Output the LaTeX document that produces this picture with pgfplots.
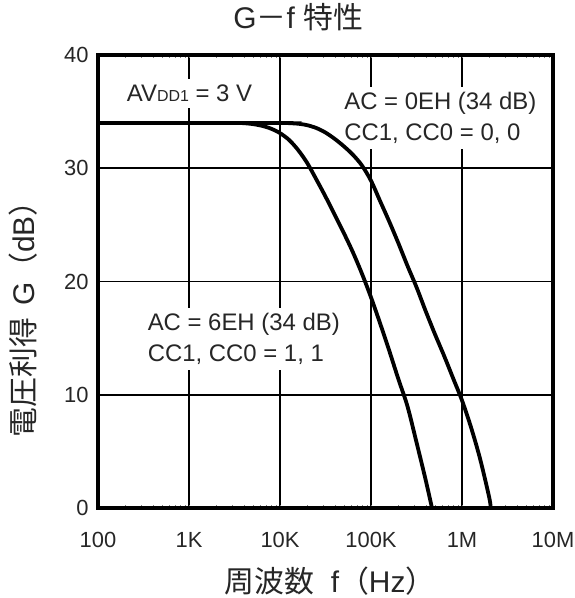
\documentclass[border=0pt]{standalone}
\usepackage{pgfplots}
\pgfplotsset{compat=1.18}
\usepackage{fontspec}
\setmainfont{Liberation Sans}
\newfontfamily\cjk{Noto Sans CJK JP}
\begin{document}
\begin{tikzpicture}
\begin{axis}[
  name=ax,
  scale only axis,
  width=455bp, height=453bp,
  xmode=log,
  xmin=100, xmax=1e7,
  ymin=0, ymax=40,
  xtick={100,1000,10000,100000,1000000,10000000},
  xticklabels={100,1K,10K,100K,1M,10M},
  ytick={0,10,20,30,40},
  yticklabels={0,10,20,30,40},
  minor xtick={}, minor ytick={},
  grid=major,
  major grid style={black, line width=1.6bp},
  axis line style={black, line width=3.6bp},
  major tick length=0pt,
  tick label style={font=\fontsize{22}{26}\selectfont, text=black!85},
  xticklabel style={anchor=base, yshift=-39bp},
  yticklabel style={anchor=east, xshift=-6bp},
  title={G{\cjk －}f {\cjk 特性}},
  title style={font=\fontsize{30}{34}\selectfont, text=black!85, at={(axis description cs:0.44,1.0442)}, anchor=base},
  xlabel={{\cjk 周波数}\hspace{0.55em}f{\cjk （}Hz{\cjk ）}},
  ylabel={{\cjk 電圧利得}\hspace{0.4em}G{\cjk （}dB{\cjk ）}},
  label style={font=\fontsize{30}{34}\selectfont, text=black!85},
  xlabel style={at={(axis description cs:0.51,-0.1876)}, anchor=base},
  ylabel style={at={(axis description cs:-0.1385,0.433)}, anchor=base},
  clip=true,
]
\node[fill=white, anchor=west, inner sep=6bp, text=black!85, font=\fontsize{24}{28}\selectfont]
  at (rel axis cs:0.05,0.916) {AV{\fontsize{16}{16}\selectfont DD1} = 3 V};
\node[fill=white, anchor=west, align=left, inner sep=5bp, text=black!85, font=\fontsize{24}{31}\selectfont]
  at (rel axis cs:0.53,0.861) {AC = 0EH (34 dB)\\CC1, CC0 = 0, 0};
\node[fill=white, anchor=west, align=left, inner sep=5bp, text=black!85, font=\fontsize{24}{31}\selectfont]
  at (rel axis cs:0.098,0.373) {AC = 6EH (34 dB)\\CC1, CC0 = 1, 1};
\addplot[black, line width=3.8bp, smooth, tension=0.5] coordinates {
(100,34) (1000,34) (3162,34) (3981,33.98) (5012,33.9) (6310,33.75) (7943,33.5) (10000,33.1) (12589,32.5) (15849,31.6) (19953,30.45) (25119,29.0) (31623,27.5) (39811,25.9) (50119,24.3) (63096,22.6) (79433,20.7) (100000,18.6) (125893,16.3) (158489,13.9) (199526,11.4) (251189,9.0) (316228,5.8) (398107,2.5) (467735,0)
};
\addplot[black, line width=3.8bp, smooth, tension=0.5] coordinates {
(100,34) (1000,34) (10000,34) (12589,33.98) (15849,33.93) (19953,33.8) (25119,33.55) (31623,33.15) (39811,32.6) (50119,31.95) (63096,31.2) (79433,30.25) (100000,28.9) (125893,27.1) (158489,25.3) (199526,23.4) (251189,21.4) (316228,19.5) (398107,17.4) (501187,15.4) (630957,13.5) (794328,11.5) (1000000,9.5) (1258925,7.1) (1584893,4.3) (1995262,0.9) (2065380,0)
};
\end{axis}
\pgfresetboundingbox
\path ([xshift=-98bp,yshift=-90bp]ax.south west) rectangle ([xshift=21bp,yshift=55bp]ax.north east);
\end{tikzpicture}
\end{document}
